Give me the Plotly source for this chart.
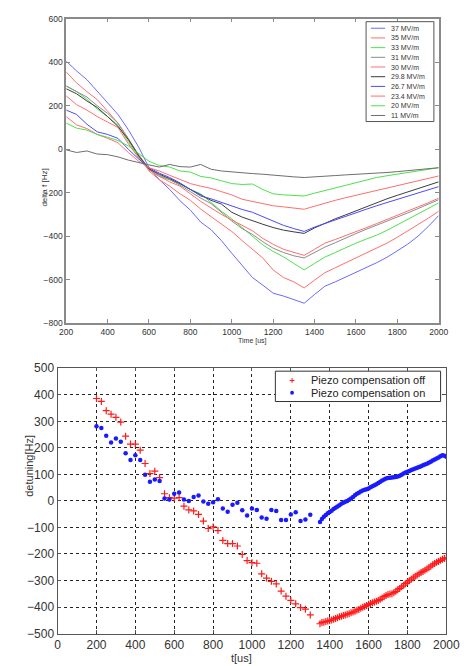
import plotly.graph_objects as go

# ---------------- data: top chart (delta f vs time, several gradients) ----------------
time_us = [200, 250, 300, 350, 400, 450, 500, 550, 600, 650, 700, 750, 800, 850, 900, 950,
           1000, 1050, 1100, 1150, 1200, 1250, 1300, 1350, 1400, 1450, 1500, 1550, 1600,
           1650, 1700, 1750, 1800, 1850, 1900, 1950, 2000]

field_labels = ["37 MV/m", "35 MV/m", "33 MV/m", "31 MV/m", "30 MV/m", "29.8 MV/m",
                "26.7 MV/m", "23.4 MV/m", "20 MV/m", "11 MV/m"]
field_colors = ["#6a6aff", "#ff6e6e", "#4fe04f", "#8c8c8c", "#ff6e6e", "#3c3c3c",
                "#4a4aff", "#ff6e6e", "#4fe04f", "#6e6e6e"]

df_37 = [405, 360, 320, 268, 215, 160, 90, 10, -85, -140, -185, -237, -280, -335, -370, -420,
         -478, -535, -590, -625, -662, -675, -690, -708, -668, -630, -610, -588, -567,
         -545, -522, -497, -468, -437, -400, -355, -305]
df_35 = [355, 305, 265, 228, 175, 120, 50, -30, -100, -140, -170, -205, -235, -275, -310, -345,
         -378, -420, -462, -500, -555, -590, -610, -638, -602, -568, -545, -522, -500,
         -476, -455, -432, -405, -377, -348, -317, -285]
df_33 = [292, 265, 230, 185, 150, 110, 35, -35, -95, -125, -140, -160, -185, -205, -245, -285,
         -320, -360, -400, -440, -470, -495, -525, -555, -525, -496, -475, -453, -432,
         -413, -395, -373, -348, -323, -298, -272, -247]
df_31 = [290, 265, 240, 200, 165, 120, 45, -25, -90, -120, -140, -165, -195, -225, -250, -290,
         -330, -365, -392, -425, -455, -475, -490, -500, -475, -450, -430, -408, -388,
         -368, -350, -331, -313, -293, -273, -253, -232]
df_30 = [245, 205, 180, 150, 125, 100, 25, -40, -95, -125, -150, -170, -205, -240, -270, -300,
         -325, -352, -375, -410, -437, -460, -475, -488, -460, -432, -415, -398, -380,
         -361, -342, -323, -305, -286, -266, -246, -225]
df_29_8 = [278, 255, 222, 192, 150, 105, 45, -30, -90, -115, -135, -158, -185, -210, -235, -252,
           -290, -312, -330, -345, -360, -372, -380, -387, -362, -340, -320, -302, -283,
           -264, -245, -228, -212, -196, -181, -165, -150]
df_26_7 = [180, 160, 115, 80, 68, 50, 0, -45, -85, -110, -130, -155, -185, -215, -228, -245,
           -262, -277, -290, -310, -330, -350, -365, -378, -358, -341, -325, -309, -292,
           -276, -260, -245, -232, -218, -203, -188, -172]
df_23_4 = [150, 112, 95, 68, 50, 30, -15, -55, -85, -100, -120, -140, -158, -170, -180, -195,
           -210, -230, -240, -247, -260, -265, -270, -276, -262, -247, -235, -223, -212,
           -200, -190, -179, -168, -155, -144, -133, -123]
df_20 = [120, 97, 88, 68, 55, 40, 15, -20, -55, -75, -82, -100, -105, -125, -132, -145,
         -158, -162, -160, -185, -205, -210, -213, -215, -202, -190, -178, -165, -152,
         -141, -130, -122, -114, -106, -99, -92, -85]
df_11 = [-3, -15, -8, -22, -25, -35, -50, -62, -72, -82, -70, -80, -82, -70, -92, -100,
         -105, -108, -112, -115, -120, -125, -127, -130, -126, -123, -121, -118, -116,
         -114, -111, -107, -103, -98, -93, -90, -85]

top_series = [df_37, df_35, df_33, df_31, df_30, df_29_8, df_26_7, df_23_4, df_20, df_11]

top_x_ticks = [200, 400, 600, 800, 1000, 1200, 1400, 1600, 1800, 2000]
top_y_ticks = [-800, -600, -400, -200, 0, 200, 400, 600]

# ---------------- data: bottom chart (detuning, piezo off / on) ----------------
sparse_t = [200, 225, 250, 275, 300, 325, 350, 375, 400, 425, 450, 475, 500, 525, 550, 575,
            600, 625, 650, 675, 700, 725, 750, 775, 800, 825, 850, 875, 900, 925, 950, 975,
            1000, 1025, 1050, 1075, 1100, 1125, 1150, 1175, 1200, 1225, 1250, 1275, 1300]
off_sparse = [386, 375, 340, 327, 315, 297, 244, 214, 214, 191, 141, 103, 112, 88, 27, 12,
              10, 12, -20, -34, -38, -51, -76, -104, -98, -112, -149, -161, -161, -170, -202, -225,
              -233, -235, -275, -291, -303, -313, -340, -359, -375, -388, -402, -408, -430]
on_sparse = [281, 275, 246, 220, 235, 223, 180, 154, 172, 154, 99, 72, 81, 75, 9, 5,
             27, 32, 5, 0, 15, 20, -2, -11, -5, 6, -29, -41, -15, -7, -35, -55,
             -29, -34, -63, -67, -34, -38, -72, -72, -51, -43, -76, -70, -52]

dense_t = [1350, 1360, 1370, 1380, 1390, 1400, 1410, 1420, 1430, 1440, 1450, 1460, 1470, 1480,
           1490, 1500, 1510, 1520, 1530, 1540, 1550, 1560, 1570, 1580, 1590, 1600, 1610, 1620,
           1630, 1640, 1650, 1660, 1670, 1680, 1690, 1700, 1710, 1720, 1730, 1740, 1750, 1760,
           1770, 1780, 1790, 1800, 1810, 1820, 1830, 1840, 1850, 1860, 1870, 1880, 1890, 1900,
           1910, 1920, 1930, 1940, 1950, 1960, 1970, 1980, 1990, 2000]
off_dense = [-463, -458, -457, -455, -453, -451, -449, -446, -443, -440, -437, -435, -432, -430,
             -427, -425, -422, -419, -416, -412, -409, -405, -401, -398, -394, -390, -387, -384,
             -381, -378, -375, -371, -366, -361, -357, -353, -351, -350, -346, -341, -335, -330,
             -324, -318, -312, -306, -301, -295, -290, -284, -279, -275, -270, -266, -261, -257,
             -252, -246, -241, -236, -231, -228, -224, -220, -217, -215]
on_dense = [-80, -68, -60, -53, -47, -42, -37, -31, -26, -21, -16, -11, -7, -3,
            0, 4, 9, 15, 21, 27, 31, 35, 39, 42, 44, 47, 51, 55,
            59, 63, 67, 72, 77, 81, 84, 86, 87, 88, 89, 90, 92, 95,
            99, 103, 107, 110, 113, 116, 119, 122, 125, 128, 131, 134, 137, 140,
            144, 148, 152, 156, 160, 164, 168, 172, 170, 166]

bottom_labels = ["Piezo compensation off", "Piezo compensation on"]
bot_x_ticks = [0, 200, 400, 600, 800, 1000, 1200, 1400, 1600, 1800, 2000]
bot_y_ticks = [-500, -400, -300, -200, -100, 0, 100, 200, 300, 400, 500]

# ---------------- figure ----------------
W, H = 467, 666
FONT = "Liberation Sans, Arial, sans-serif"


def fx(p):
    return p / W


def fy(p):
    return 1 - p / H


fig = go.Figure()

for vals, col in zip(top_series, field_colors):
    fig.add_trace(go.Scatter(x=time_us, y=vals, mode="lines",
                             line=dict(color=col, width=1),
                             xaxis="x", yaxis="y", showlegend=False, hoverinfo="skip"))

fig.add_trace(go.Scatter(x=sparse_t + dense_t, y=off_sparse + off_dense, mode="markers",
                         marker=dict(symbol="cross-thin", size=5, color="#ff1a1a",
                                     line=dict(color="#ff1a1a", width=1.2)),
                         xaxis="x2", yaxis="y2", showlegend=False))
fig.add_trace(go.Scatter(x=sparse_t + dense_t, y=on_sparse + on_dense, mode="markers",
                         marker=dict(symbol="circle", size=4.5, color="#1a1aff"),
                         xaxis="x2", yaxis="y2", showlegend=False))

top_ax = dict(showgrid=False, zeroline=False, showline=True, linecolor="#8a8a8a",
              linewidth=1.5, mirror="ticks", ticks="inside", ticklen=4, tickcolor="#8a8a8a",
              tickfont=dict(family=FONT, size=8.5, color="#333333"))
bot_ax = dict(showgrid=True, gridcolor="#222222", griddash="dot", gridwidth=1,
              zeroline=False, showline=True, linecolor="#555555", linewidth=1.2,
              mirror="ticks", ticks="inside", ticklen=3, tickcolor="#555555",
              tickfont=dict(family=FONT, size=12, color="#333333"))

fig.update_layout(
    width=W, height=H, autosize=False,
    margin=dict(l=0, r=0, t=0, b=0),
    paper_bgcolor="white", plot_bgcolor="white",
    xaxis=dict(domain=[fx(62), fx(452)], range=[200, 2000], anchor="y",
               tickvals=top_x_ticks, **top_ax),
    yaxis=dict(domain=[fy(323), fy(12)], range=[-800, 600], anchor="x",
               tickvals=top_y_ticks, **top_ax),
    xaxis2=dict(domain=[fx(53), fx(460)], range=[0, 2000], anchor="y2",
                tickvals=bot_x_ticks, **bot_ax),
    yaxis2=dict(domain=[fy(640), fy(369)], range=[-500, 500], anchor="x2",
                tickvals=bot_y_ticks, **bot_ax),
)

ann = []
shapes = []
# axis titles
ann.append(dict(text="Time [us]", x=fx(257), y=fy(341), xref="paper", yref="paper",
                showarrow=False, font=dict(family=FONT, size=7, color="#333333")))
ann.append(dict(text="delta f [Hz]", x=fx(33), y=fy(163), xref="paper", yref="paper",
                textangle=-90, showarrow=False, font=dict(family=FONT, size=8, color="#333333")))
ann.append(dict(text="t[us]", x=fx(246), y=fy(657), xref="paper", yref="paper",
                yanchor="top", showarrow=False, font=dict(family=FONT, size=11, color="#333333")))
ann.append(dict(text="detuning[Hz]", x=fx(15), y=fy(502), xref="paper", yref="paper",
                textangle=-90, showarrow=False, font=dict(family=FONT, size=11, color="#333333")))

# top legend box
shapes.append(dict(type="rect", xref="paper", yref="paper", x0=fx(376), x1=fx(447),
                   y0=fy(117), y1=fy(15), line=dict(color="#555555", width=1),
                   fillcolor="white", layer="above"))
for i, (lab, col) in enumerate(zip(field_labels, field_colors)):
    yc = 21.7 + i * 9.9
    shapes.append(dict(type="line", xref="paper", yref="paper", x0=fx(381), x1=fx(396),
                       y0=fy(yc), y1=fy(yc), line=dict(color=col, width=1), layer="above"))
    ann.append(dict(text=lab, x=fx(400), y=fy(yc), xref="paper", yref="paper",
                    xanchor="left", yanchor="middle", showarrow=False,
                    font=dict(family=FONT, size=7, color="#333333")))

# bottom legend box
shapes.append(dict(type="rect", xref="paper", yref="paper", x0=fx(281), x1=fx(454),
                   y0=fy(403), y1=fy(372), line=dict(color="#333333", width=1),
                   fillcolor="white", layer="above"))
# red + marker sample
shapes.append(dict(type="line", xref="paper", yref="paper", x0=fx(296), x1=fx(301),
                   y0=fy(381.5), y1=fy(381.5), line=dict(color="#ff1a1a", width=1), layer="above"))
shapes.append(dict(type="line", xref="paper", yref="paper", x0=fx(298.5), x1=fx(298.5),
                   y0=fy(379), y1=fy(384), line=dict(color="#ff1a1a", width=1), layer="above"))
# blue dot sample
shapes.append(dict(type="circle", xref="paper", yref="paper", x0=fx(296.5), x1=fx(300.5),
                   y0=fy(396), y1=fy(392), fillcolor="#1a1aff", line=dict(width=0), layer="above"))
for i, lab in enumerate(bottom_labels):
    yc = 381.5 + i * 12.5
    ann.append(dict(text=lab, x=fx(316), y=fy(yc), xref="paper", yref="paper",
                    xanchor="left", yanchor="middle", showarrow=False,
                    font=dict(family=FONT, size=11, color="#222222")))

fig.update_layout(annotations=ann, shapes=shapes)
fig.write_html("out.html")
